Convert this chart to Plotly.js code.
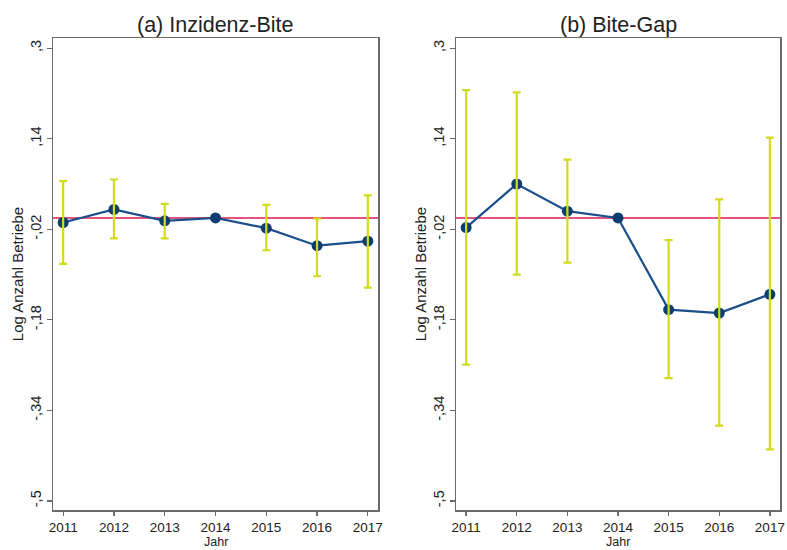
<!DOCTYPE html>
<html>
<head>
<meta charset="utf-8">
<script src="https://cdn.plot.ly/plotly-3.0.1.min.js"></script>
<style>html,body{margin:0;padding:0;background:#fff;}#chart{width:787px;height:550px;}</style>
</head>
<body>
<div id="chart"></div>
<script>
// Data
const years = [2011, 2012, 2013, 2014, 2015, 2016, 2017];

// (a) Inzidenz-Bite
const coefA  = [-0.008, 0.015, -0.005, 0.0, -0.018, -0.049, -0.041];
const upperA = [0.065, 0.068, 0.025, null, 0.023, -0.001, 0.040];
const lowerA = [-0.081, -0.036, -0.036, null, -0.057, -0.103, -0.123];

// (b) Bite-Gap
const coefB  = [-0.017, 0.060, 0.012, 0.0, -0.162, -0.168, -0.135];
const upperB = [0.226, 0.222, 0.103, null, -0.039, 0.033, 0.142];
const lowerB = [-0.259, -0.100, -0.079, null, -0.283, -0.367, -0.409];

const yTickVals = [0.3, 0.14, -0.02, -0.18, -0.34, -0.5];
const yTickText = [",3", ",14", "-,02", "-,18", "-,34", "-,5"];
const titles = ["(a) Inzidenz-Bite", "(b) Bite-Gap"];
const xTitle = "Jahr";

const lineColor = "#1b4f8c";
const markerColor = "#0f3d70";
const ciColor = "#d2dc1c";
const refColor = "#d81b50";
const axisColor = "#6b6b6b";
const FONT = "Arial, Liberation Sans, sans-serif";

function panelTraces(coef, up, lo, xa, ya) {
  const plus = coef.map((c, i) => up[i] === null ? null : up[i] - c);
  const minus = coef.map((c, i) => lo[i] === null ? null : c - lo[i]);
  const xs = years.filter((_, i) => up[i] !== null);
  const ys = coef.filter((_, i) => up[i] !== null);
  return [
    {
      x: years, y: coef, xaxis: xa, yaxis: ya, type: "scatter", mode: "lines+markers",
      line: {color: lineColor, width: 2.2},
      marker: {color: markerColor, size: 11},
      hoverinfo: "skip", showlegend: false
    },
    {
      x: xs, y: ys, xaxis: xa, yaxis: ya, type: "scatter", mode: "markers",
      marker: {color: "rgba(0,0,0,0)", size: 1},
      error_y: {
        type: "data", symmetric: false,
        array: plus.filter(v => v !== null),
        arrayminus: minus.filter(v => v !== null),
        color: ciColor, thickness: 2.2, width: 4
      },
      hoverinfo: "skip", showlegend: false
    }
  ];
}

const data = [
  ...panelTraces(coefA, upperA, lowerA, "x", "y"),
  ...panelTraces(coefB, upperB, lowerB, "x2", "y2")
];

const yDomain = [1 - 510 / 550, 1 - 38 / 550];
function xAxis(domain, anchor) {
  return {
    domain: domain, anchor: anchor, range: [2010.8, 2017.2],
    tickvals: years, ticktext: years.map(String),
    ticks: "outside", ticklen: 4, tickwidth: 1.3, tickcolor: axisColor,
    showline: true, linecolor: axisColor, linewidth: 1.5, mirror: true,
    showgrid: false, zeroline: false,
    tickfont: {family: FONT, size: 13.5, color: "#222"},
    automargin: false
  };
}
function yAxis(anchor) {
  return {
    domain: yDomain, anchor: anchor, range: [-0.516, 0.318],
    tickvals: yTickVals, ticktext: yTickText, tickangle: -90,
    ticks: "outside", ticklen: 5, tickwidth: 1.3, tickcolor: axisColor,
    showline: true, linecolor: axisColor, linewidth: 1.5, mirror: true,
    showgrid: false, zeroline: false,
    tickfont: {family: FONT, size: 14.5, color: "#222"},
    title: {text: "Log Anzahl Betriebe", font: {family: FONT, size: 15, color: "#222"}, standoff: 0},
    automargin: false
  };
}

const layout = {
  width: 787, height: 550,
  margin: {l: 0, r: 0, t: 0, b: 0},
  paper_bgcolor: "#fff", plot_bgcolor: "#fff",
  xaxis: xAxis([53 / 787, 378 / 787], "y"),
  yaxis: yAxis("x"),
  xaxis2: xAxis([456 / 787, 780 / 787], "y2"),
  yaxis2: yAxis("x2"),
  shapes: [
    {type: "line", xref: "x domain", yref: "y", x0: 0, x1: 1, y0: 0, y1: 0, line: {color: refColor, width: 1.5}, layer: "below"},
    {type: "line", xref: "x2 domain", yref: "y2", x0: 0, x1: 1, y0: 0, y1: 0, line: {color: refColor, width: 1.5}, layer: "below"}
  ],
  annotations: [
    {text: titles[0], xref: "paper", yref: "paper", x: 215.5 / 787, y: 1 - 25 / 550, xanchor: "center", yanchor: "middle", showarrow: false,
     font: {family: FONT, size: 21.5, color: "#222"}},
    {text: titles[1], xref: "paper", yref: "paper", x: 618 / 787, y: 1 - 25 / 550, xanchor: "center", yanchor: "middle", showarrow: false,
     font: {family: FONT, size: 21.5, color: "#222"}},
    {text: xTitle, xref: "x domain", yref: "paper", x: 0.5, y: 0, xanchor: "center", yanchor: "bottom", yshift: 0, borderpad: 0, showarrow: false,
     font: {family: FONT, size: 12.5, color: "#222"}},
    {text: xTitle, xref: "x2 domain", yref: "paper", x: 0.5, y: 0, xanchor: "center", yanchor: "bottom", yshift: 0, borderpad: 0, showarrow: false,
     font: {family: FONT, size: 12.5, color: "#222"}}
  ]
};

Plotly.newPlot("chart", data, layout, {staticPlot: true, displayModeBar: false});
</script>
</body>
</html>
